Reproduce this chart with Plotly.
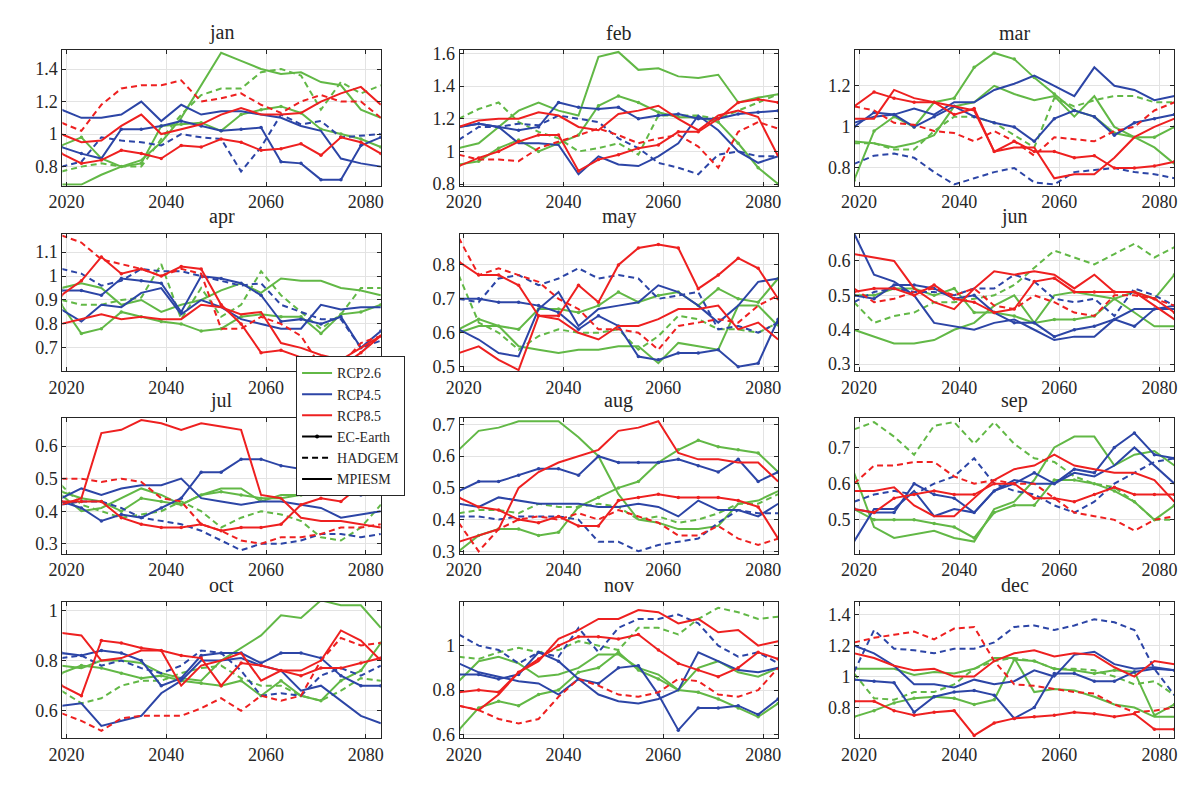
import plotly.graph_objects as go
from plotly.subplots import make_subplots

# years sampled every 4 years along the x axis
years = [2019, 2023, 2027, 2031, 2035, 2039, 2043, 2047, 2051, 2055, 2059, 2063, 2067, 2071, 2075, 2079, 2083]

months = ['jan', 'feb', 'mar', 'apr', 'may', 'jun', 'jul', 'aug', 'sep', 'oct', 'nov', 'dec']

# ---- jan ----
jan_g_ec = [0.93, 0.98, 0.85, 0.80, 0.82, 1.05, 1.06, 1.07, 1.02, 1.12, 1.15, 1.17, 1.13, 1.03, 1.00, 0.97, 0.92]
jan_g_had = [0.77, 0.80, 0.82, 0.80, 0.80, 0.97, 1.12, 1.24, 1.28, 1.28, 1.38, 1.40, 1.36, 1.15, 1.32, 1.25, 1.30]
jan_g_mpi = [0.69, 0.69, 0.75, 0.80, 0.84, 0.95, 1.10, 1.30, 1.50, 1.45, 1.40, 1.37, 1.38, 1.32, 1.30, 1.15, 1.10]
jan_b_ec = [0.92, 0.88, 0.85, 1.03, 1.03, 1.05, 1.08, 1.05, 1.02, 1.03, 1.04, 0.83, 0.82, 0.72, 0.72, 0.93, 0.98]
jan_b_had = [0.80, 0.83, 0.98, 0.96, 0.95, 0.93, 1.00, 0.98, 0.97, 0.77, 0.92, 1.12, 1.06, 1.08, 0.98, 0.99, 1.00]
jan_b_mpi = [1.15, 1.10, 1.10, 1.12, 1.20, 1.08, 1.18, 1.12, 1.14, 1.14, 1.12, 1.10, 1.05, 1.02, 0.85, 0.82, 0.80]
jan_r_ec = [0.88, 0.82, 0.84, 0.90, 0.88, 0.85, 0.93, 0.92, 0.97, 0.95, 0.90, 0.91, 0.94, 0.87, 0.98, 0.95, 0.88]
jan_r_had = [1.07, 1.02, 1.18, 1.28, 1.30, 1.30, 1.33, 1.20, 1.22, 1.25, 1.18, 1.13, 1.20, 1.24, 1.20, 1.20, 1.10]
jan_r_mpi = [1.00, 0.95, 0.96, 1.05, 1.12, 1.00, 1.03, 1.06, 1.12, 1.16, 1.12, 1.12, 1.13, 1.20, 1.25, 1.29, 1.18]

# ---- feb ----
feb_g_ec = [0.92, 0.94, 1.02, 1.07, 1.00, 1.05, 1.10, 1.28, 1.34, 1.30, 1.24, 1.21, 1.21, 1.18, 1.05, 0.90, 0.80]
feb_g_had = [1.20, 1.26, 1.30, 1.18, 1.12, 1.08, 1.00, 1.02, 1.05, 0.98, 1.22, 1.22, 1.22, 1.20, 1.25, 1.30, 1.35]
feb_g_mpi = [1.02, 1.05, 1.15, 1.25, 1.30, 1.25, 1.22, 1.58, 1.61, 1.50, 1.51, 1.46, 1.45, 1.47, 1.30, 1.33, 1.35]
feb_b_ec = [1.15, 1.17, 1.15, 1.13, 1.15, 1.30, 1.27, 1.26, 1.27, 1.20, 1.22, 1.23, 1.20, 1.20, 1.23, 1.24, 1.25]
feb_b_had = [1.07, 1.15, 1.15, 1.17, 1.16, 1.22, 1.20, 1.18, 1.08, 1.02, 0.93, 0.90, 0.86, 0.98, 1.00, 0.97, 0.97]
feb_b_mpi = [1.15, 1.17, 1.15, 1.05, 1.05, 1.04, 0.86, 0.97, 0.92, 0.91, 0.97, 1.05, 1.22, 1.13, 1.00, 0.93, 0.97]
feb_r_ec = [0.91, 0.96, 1.00, 1.06, 1.10, 1.10, 0.88, 0.95, 0.98, 1.02, 1.04, 1.12, 1.12, 1.20, 1.30, 1.32, 1.30]
feb_r_had = [0.98, 0.95, 0.95, 0.94, 1.02, 1.06, 1.10, 1.14, 1.10, 1.05, 1.08, 1.10, 1.03, 0.90, 1.12, 1.18, 1.14]
feb_r_mpi = [1.15, 1.19, 1.20, 1.20, 1.24, 1.22, 1.15, 1.13, 1.23, 1.25, 1.28, 1.20, 1.13, 1.22, 1.25, 1.21, 0.97]

# ---- mar ----
mar_g_ec = [0.74, 0.98, 1.05, 1.00, 1.12, 1.14, 1.29, 1.36, 1.33, 1.24, 1.16, 1.08, 1.05, 0.97, 0.95, 0.95, 1.00]
mar_g_had = [0.92, 0.92, 0.89, 0.89, 0.98, 1.05, 1.05, 1.02, 0.96, 0.90, 1.14, 1.10, 1.13, 1.15, 1.15, 1.12, 1.12]
mar_g_mpi = [0.93, 0.92, 0.90, 0.92, 0.96, 1.10, 1.12, 1.20, 1.16, 1.13, 1.15, 1.05, 1.15, 1.00, 0.95, 0.90, 0.82]
mar_b_ec = [1.00, 1.07, 1.06, 1.00, 1.05, 1.10, 1.05, 1.02, 1.00, 0.93, 1.04, 1.08, 1.05, 0.96, 1.02, 1.04, 1.06]
mar_b_had = [0.82, 0.86, 0.87, 0.85, 0.78, 0.72, 0.75, 0.78, 0.80, 0.73, 0.72, 0.78, 0.79, 0.80, 0.78, 0.77, 0.75]
mar_b_mpi = [1.02, 1.05, 1.06, 1.09, 1.06, 1.12, 1.12, 1.18, 1.21, 1.25, 1.20, 1.15, 1.29, 1.20, 1.18, 1.13, 1.15]
mar_r_ec = [1.10, 1.17, 1.14, 1.12, 1.12, 1.06, 1.09, 0.88, 0.93, 0.88, 0.88, 0.85, 0.86, 0.80, 0.80, 0.81, 0.83]
mar_r_had = [1.10, 1.08, 1.02, 1.01, 0.98, 0.97, 0.93, 0.98, 0.93, 0.86, 0.95, 0.94, 0.93, 0.98, 1.00, 1.08, 1.12]
mar_r_mpi = [1.04, 1.04, 1.18, 1.14, 1.12, 1.10, 1.08, 0.88, 0.90, 0.90, 0.75, 0.77, 0.77, 0.85, 0.95, 1.00, 1.04]

# ---- apr ----
apr_g_ec = [0.88, 0.76, 0.78, 0.85, 0.83, 0.81, 0.80, 0.77, 0.78, 0.83, 0.84, 0.83, 0.83, 0.76, 0.84, 0.85, 0.88]
apr_g_had = [0.90, 0.88, 0.88, 0.90, 0.91, 1.05, 0.82, 0.95, 0.83, 0.88, 1.02, 0.92, 0.85, 0.78, 0.84, 0.95, 0.95]
apr_g_mpi = [0.95, 0.97, 0.95, 0.88, 0.90, 0.85, 0.88, 0.90, 0.94, 0.97, 0.93, 0.99, 0.98, 0.98, 0.95, 0.94, 0.92]
apr_b_ec = [0.94, 0.94, 0.92, 0.99, 0.98, 0.97, 0.85, 1.00, 0.99, 0.97, 0.92, 0.81, 0.82, 0.80, 0.83, 0.70, 0.77]
apr_b_had = [1.03, 1.01, 0.96, 0.98, 1.03, 1.02, 1.02, 1.00, 0.98, 0.96, 0.97, 0.88, 0.85, 0.82, 0.82, 0.70, 0.73]
apr_b_mpi = [0.86, 0.81, 0.88, 0.87, 0.93, 0.95, 0.84, 0.90, 0.87, 0.82, 0.80, 0.78, 0.78, 0.88, 0.86, 0.87, 0.87]
apr_r_ec = [0.92, 0.98, 1.08, 1.01, 1.03, 1.00, 1.04, 1.03, 0.88, 0.80, 0.68, 0.69, 0.66, 0.62, 0.62, 0.68, 0.75]
apr_r_had = [1.17, 1.14, 1.07, 1.05, 1.03, 1.00, 1.03, 1.01, 0.78, 0.78, 0.83, 0.80, 0.75, 0.62, 0.63, 0.72, 0.75]
apr_r_mpi = [0.80, 0.82, 0.84, 0.82, 0.83, 0.82, 0.82, 0.88, 0.87, 0.84, 0.85, 0.72, 0.70, 0.67, 0.65, 0.70, 0.75]

# ---- may ----
may_g_ec = [0.61, 0.64, 0.62, 0.61, 0.67, 0.67, 0.66, 0.68, 0.72, 0.69, 0.71, 0.72, 0.68, 0.73, 0.70, 0.69, 0.76]
may_g_had = [0.77, 0.63, 0.60, 0.55, 0.59, 0.61, 0.60, 0.60, 0.61, 0.55, 0.59, 0.65, 0.64, 0.61, 0.61, 0.60, 0.63]
may_g_mpi = [0.60, 0.62, 0.62, 0.56, 0.55, 0.54, 0.55, 0.55, 0.56, 0.56, 0.51, 0.57, 0.56, 0.55, 0.68, 0.68, 0.62]
may_b_ec = [0.70, 0.70, 0.69, 0.69, 0.68, 0.66, 0.61, 0.65, 0.62, 0.53, 0.52, 0.54, 0.54, 0.55, 0.50, 0.51, 0.64]
may_b_had = [0.70, 0.69, 0.76, 0.77, 0.74, 0.76, 0.79, 0.76, 0.77, 0.76, 0.70, 0.71, 0.72, 0.61, 0.62, 0.60, 0.63]
may_b_mpi = [0.61, 0.58, 0.54, 0.53, 0.67, 0.72, 0.62, 0.67, 0.68, 0.69, 0.74, 0.72, 0.68, 0.63, 0.68, 0.75, 0.76]
may_r_ec = [0.81, 0.77, 0.77, 0.74, 0.65, 0.65, 0.74, 0.69, 0.80, 0.85, 0.86, 0.85, 0.73, 0.77, 0.82, 0.79, 0.70]
may_r_had = [0.88, 0.77, 0.79, 0.77, 0.75, 0.70, 0.67, 0.61, 0.61, 0.60, 0.55, 0.62, 0.63, 0.64, 0.63, 0.68, 0.71]
may_r_mpi = [0.54, 0.56, 0.52, 0.49, 0.65, 0.64, 0.60, 0.58, 0.62, 0.62, 0.64, 0.67, 0.67, 0.68, 0.61, 0.63, 0.58]

# ---- jun ----
jun_g_ec = [0.50, 0.50, 0.52, 0.52, 0.50, 0.52, 0.45, 0.45, 0.44, 0.42, 0.43, 0.43, 0.44, 0.49, 0.51, 0.49, 0.56]
jun_g_had = [0.48, 0.42, 0.44, 0.45, 0.48, 0.48, 0.49, 0.50, 0.53, 0.58, 0.63, 0.61, 0.59, 0.62, 0.65, 0.61, 0.64]
jun_g_mpi = [0.40, 0.38, 0.36, 0.36, 0.37, 0.40, 0.42, 0.47, 0.50, 0.42, 0.50, 0.51, 0.50, 0.49, 0.45, 0.41, 0.41]
jun_b_ec = [0.50, 0.49, 0.53, 0.53, 0.52, 0.49, 0.50, 0.45, 0.42, 0.42, 0.38, 0.40, 0.41, 0.43, 0.41, 0.46, 0.47]
jun_b_had = [0.48, 0.51, 0.52, 0.51, 0.51, 0.50, 0.52, 0.52, 0.56, 0.54, 0.49, 0.48, 0.49, 0.44, 0.52, 0.50, 0.47]
jun_b_mpi = [0.68, 0.56, 0.54, 0.50, 0.42, 0.41, 0.40, 0.42, 0.43, 0.40, 0.37, 0.38, 0.38, 0.43, 0.46, 0.46, 0.46]
jun_r_ec = [0.51, 0.52, 0.52, 0.50, 0.53, 0.49, 0.48, 0.45, 0.46, 0.54, 0.55, 0.51, 0.51, 0.51, 0.51, 0.49, 0.45]
jun_r_had = [0.52, 0.48, 0.49, 0.51, 0.52, 0.50, 0.52, 0.47, 0.46, 0.50, 0.48, 0.45, 0.44, 0.50, 0.50, 0.49, 0.47]
jun_r_mpi = [0.62, 0.61, 0.60, 0.52, 0.48, 0.46, 0.52, 0.57, 0.56, 0.57, 0.56, 0.52, 0.56, 0.51, 0.51, 0.47, 0.43]

# ---- jul ----
jul_g_ec = [0.46, 0.44, 0.43, 0.40, 0.44, 0.43, 0.42, 0.45, 0.46, 0.45, 0.44, 0.44, 0.45, 0.50, 0.49, 0.49, 0.48]
jul_g_had = [0.48, 0.42, 0.40, 0.38, 0.39, 0.40, 0.43, 0.40, 0.35, 0.38, 0.40, 0.39, 0.37, 0.32, 0.31, 0.35, 0.42]
jul_g_mpi = [0.45, 0.40, 0.41, 0.44, 0.47, 0.45, 0.42, 0.45, 0.47, 0.47, 0.43, 0.45, 0.45, 0.50, 0.49, 0.48, 0.47]
jul_b_ec = [0.43, 0.41, 0.37, 0.39, 0.38, 0.41, 0.44, 0.52, 0.52, 0.56, 0.56, 0.54, 0.53, 0.53, 0.47, 0.45, 0.47]
jul_b_had = [0.42, 0.43, 0.43, 0.41, 0.38, 0.37, 0.36, 0.34, 0.31, 0.28, 0.30, 0.30, 0.31, 0.33, 0.33, 0.32, 0.33]
jul_b_mpi = [0.44, 0.47, 0.45, 0.47, 0.48, 0.48, 0.50, 0.44, 0.43, 0.42, 0.43, 0.43, 0.42, 0.41, 0.38, 0.39, 0.40]
jul_r_ec = [0.43, 0.43, 0.43, 0.38, 0.36, 0.35, 0.35, 0.36, 0.34, 0.35, 0.35, 0.36, 0.42, 0.44, 0.43, 0.48, 0.48]
jul_r_had = [0.50, 0.50, 0.49, 0.50, 0.49, 0.44, 0.43, 0.36, 0.34, 0.31, 0.30, 0.32, 0.32, 0.33, 0.35, 0.35, 0.36]
jul_r_mpi = [0.42, 0.44, 0.64, 0.65, 0.68, 0.67, 0.65, 0.67, 0.66, 0.65, 0.45, 0.44, 0.38, 0.37, 0.37, 0.36, 0.35]

# ---- aug ----
aug_g_ec = [0.30, 0.35, 0.37, 0.37, 0.35, 0.36, 0.44, 0.47, 0.50, 0.52, 0.58, 0.62, 0.65, 0.63, 0.62, 0.61, 0.55]
aug_g_had = [0.42, 0.43, 0.43, 0.42, 0.45, 0.44, 0.44, 0.45, 0.44, 0.40, 0.41, 0.39, 0.40, 0.42, 0.45, 0.45, 0.48]
aug_g_mpi = [0.62, 0.68, 0.69, 0.71, 0.71, 0.71, 0.66, 0.60, 0.48, 0.40, 0.39, 0.37, 0.37, 0.38, 0.45, 0.46, 0.49]
aug_b_ec = [0.49, 0.52, 0.52, 0.54, 0.56, 0.56, 0.54, 0.60, 0.58, 0.58, 0.58, 0.59, 0.57, 0.55, 0.59, 0.52, 0.55]
aug_b_had = [0.41, 0.41, 0.40, 0.41, 0.41, 0.41, 0.40, 0.33, 0.33, 0.30, 0.32, 0.33, 0.34, 0.39, 0.43, 0.42, 0.42]
aug_b_mpi = [0.45, 0.44, 0.47, 0.46, 0.45, 0.45, 0.45, 0.44, 0.44, 0.45, 0.44, 0.41, 0.46, 0.43, 0.43, 0.41, 0.45]
aug_r_ec = [0.47, 0.44, 0.43, 0.40, 0.39, 0.41, 0.38, 0.38, 0.46, 0.47, 0.48, 0.47, 0.47, 0.47, 0.46, 0.44, 0.34]
aug_r_had = [0.39, 0.30, 0.37, 0.40, 0.41, 0.40, 0.42, 0.40, 0.43, 0.41, 0.39, 0.35, 0.35, 0.38, 0.34, 0.32, 0.34]
aug_r_mpi = [0.33, 0.35, 0.37, 0.50, 0.55, 0.58, 0.60, 0.62, 0.68, 0.69, 0.71, 0.61, 0.59, 0.59, 0.58, 0.58, 0.52]

# ---- sep ----
sep_g_ec = [0.53, 0.50, 0.50, 0.50, 0.49, 0.48, 0.45, 0.52, 0.54, 0.54, 0.61, 0.61, 0.60, 0.58, 0.55, 0.50, 0.54]
sep_g_had = [0.75, 0.77, 0.73, 0.68, 0.76, 0.77, 0.71, 0.77, 0.71, 0.67, 0.66, 0.62, 0.60, 0.59, 0.55, 0.50, 0.50]
sep_g_mpi = [0.63, 0.48, 0.45, 0.46, 0.47, 0.45, 0.44, 0.53, 0.55, 0.61, 0.70, 0.73, 0.73, 0.65, 0.68, 0.69, 0.65]
sep_b_ec = [0.53, 0.52, 0.52, 0.60, 0.57, 0.56, 0.52, 0.58, 0.60, 0.63, 0.60, 0.64, 0.63, 0.70, 0.74, 0.68, 0.67]
sep_b_had = [0.55, 0.57, 0.58, 0.57, 0.60, 0.62, 0.67, 0.60, 0.58, 0.57, 0.54, 0.52, 0.55, 0.60, 0.63, 0.66, 0.67]
sep_b_mpi = [0.44, 0.53, 0.53, 0.58, 0.51, 0.53, 0.52, 0.58, 0.61, 0.60, 0.60, 0.63, 0.62, 0.65, 0.70, 0.65, 0.60]
sep_r_ec = [0.53, 0.52, 0.56, 0.57, 0.58, 0.57, 0.57, 0.60, 0.60, 0.56, 0.56, 0.55, 0.57, 0.59, 0.57, 0.57, 0.57]
sep_r_had = [0.60, 0.65, 0.65, 0.66, 0.66, 0.62, 0.60, 0.61, 0.60, 0.60, 0.56, 0.52, 0.51, 0.50, 0.47, 0.50, 0.51]
sep_r_mpi = [0.58, 0.58, 0.59, 0.54, 0.51, 0.51, 0.56, 0.61, 0.64, 0.65, 0.68, 0.65, 0.64, 0.63, 0.63, 0.61, 0.55]

# ---- oct ----
oct_g_ec = [0.75, 0.78, 0.77, 0.75, 0.73, 0.74, 0.72, 0.71, 0.70, 0.72, 0.66, 0.72, 0.66, 0.64, 0.72, 0.76, 0.87]
oct_g_had = [0.68, 0.63, 0.65, 0.70, 0.72, 0.72, 0.75, 0.77, 0.78, 0.73, 0.70, 0.70, 0.66, 0.64, 0.68, 0.73, 0.72]
oct_g_mpi = [0.78, 0.77, 0.80, 0.80, 0.79, 0.75, 0.73, 0.72, 0.80, 0.85, 0.90, 0.98, 0.97, 1.04, 1.02, 1.02, 0.93]
oct_b_ec = [0.83, 0.82, 0.84, 0.83, 0.80, 0.70, 0.73, 0.82, 0.83, 0.83, 0.79, 0.83, 0.83, 0.81, 0.74, 0.70, 0.70]
oct_b_had = [0.81, 0.82, 0.78, 0.80, 0.77, 0.75, 0.78, 0.84, 0.83, 0.76, 0.66, 0.67, 0.66, 0.74, 0.77, 0.74, 0.78]
oct_b_mpi = [0.62, 0.63, 0.54, 0.56, 0.58, 0.67, 0.72, 0.80, 0.80, 0.81, 0.78, 0.76, 0.68, 0.70, 0.64, 0.58, 0.55]
oct_r_ec = [0.70, 0.66, 0.88, 0.87, 0.85, 0.84, 0.82, 0.81, 0.70, 0.79, 0.78, 0.76, 0.74, 0.77, 0.77, 0.79, 0.81]
oct_r_had = [0.59, 0.56, 0.52, 0.57, 0.58, 0.58, 0.58, 0.61, 0.65, 0.60, 0.66, 0.64, 0.66, 0.80, 0.89, 0.86, 0.87]
oct_r_mpi = [0.91, 0.90, 0.80, 0.81, 0.84, 0.84, 0.70, 0.78, 0.80, 0.83, 0.72, 0.76, 0.76, 0.80, 0.92, 0.88, 0.80]

# ---- nov ----
nov_g_ec = [0.62, 0.72, 0.75, 0.73, 0.78, 0.80, 0.88, 0.90, 0.97, 0.89, 0.85, 0.80, 0.79, 0.76, 0.72, 0.68, 0.74]
nov_g_had = [0.95, 0.94, 0.97, 0.99, 0.97, 0.98, 1.02, 1.00, 0.98, 1.08, 1.08, 1.05, 1.12, 1.17, 1.15, 1.12, 1.13]
nov_g_mpi = [0.84, 0.93, 0.95, 0.92, 0.86, 0.87, 0.90, 0.96, 0.96, 0.90, 0.87, 0.80, 0.90, 0.93, 0.88, 0.86, 0.90]
nov_b_ec = [0.87, 0.87, 0.85, 0.87, 0.97, 0.93, 0.85, 0.83, 0.90, 0.91, 0.78, 0.62, 0.72, 0.72, 0.73, 0.69, 0.76]
nov_b_had = [1.05, 1.00, 0.98, 0.92, 0.97, 0.95, 1.08, 0.97, 1.08, 1.12, 1.12, 1.14, 1.10, 1.00, 0.95, 0.97, 0.92]
nov_b_mpi = [0.92, 0.88, 0.86, 0.84, 0.83, 0.78, 0.85, 0.78, 0.75, 0.74, 0.76, 0.80, 0.97, 0.93, 0.89, 0.88, 0.90]
nov_r_ec = [0.79, 0.80, 0.79, 0.88, 0.94, 1.00, 1.04, 1.04, 1.03, 1.05, 0.98, 0.92, 0.89, 0.86, 0.90, 0.97, 0.94]
nov_r_had = [0.73, 0.71, 0.67, 0.65, 0.67, 0.77, 0.85, 0.82, 0.78, 0.77, 0.79, 0.85, 0.84, 0.78, 0.77, 0.80, 0.90]
nov_r_mpi = [0.73, 0.71, 0.78, 0.88, 0.93, 1.03, 1.07, 1.12, 1.12, 1.16, 1.15, 1.10, 1.12, 1.06, 1.07, 1.00, 1.02]

# ---- dec ----
dec_g_ec = [0.74, 0.78, 0.83, 0.86, 0.87, 0.86, 0.82, 0.85, 1.11, 1.10, 1.05, 1.04, 1.02, 1.04, 1.03, 0.75, 0.82]
dec_g_had = [1.02, 0.86, 0.85, 0.90, 0.90, 0.95, 1.05, 1.10, 1.12, 1.10, 1.05, 1.05, 1.04, 1.00, 0.95, 0.97, 0.88]
dec_g_mpi = [1.05, 1.05, 1.05, 1.01, 1.03, 1.02, 1.05, 1.12, 1.12, 0.90, 0.92, 0.91, 0.87, 0.82, 0.80, 0.74, 0.74]
dec_b_ec = [0.98, 0.97, 0.96, 0.77, 0.87, 0.90, 0.91, 0.88, 0.73, 0.80, 1.02, 1.02, 0.97, 0.97, 1.03, 1.05, 1.04]
dec_b_had = [1.03, 1.30, 1.18, 1.17, 1.15, 1.18, 1.18, 1.22, 1.32, 1.33, 1.30, 1.33, 1.37, 1.35, 1.30, 1.05, 0.88]
dec_b_mpi = [1.20, 1.15, 1.07, 0.95, 0.95, 0.93, 0.98, 0.95, 0.97, 1.04, 1.00, 1.14, 1.16, 1.08, 1.05, 1.06, 1.04]
dec_r_ec = [0.84, 0.84, 0.78, 0.75, 0.77, 0.78, 0.62, 0.70, 0.73, 0.74, 0.75, 0.77, 0.76, 0.74, 0.76, 0.66, 0.66]
dec_r_had = [1.22, 1.25, 1.27, 1.29, 1.24, 1.31, 1.32, 1.10, 0.95, 0.94, 0.92, 0.90, 0.89, 0.82, 0.77, 0.78, 0.80]
dec_r_mpi = [1.15, 1.12, 1.07, 1.04, 1.05, 1.00, 1.00, 1.10, 1.15, 1.17, 1.13, 1.15, 1.14, 1.06, 1.00, 1.10, 1.08]

# axis limits and tick labels per month
y_ranges = {
    'jan': [0.683, 1.515], 'feb': [0.79, 1.62], 'mar': [0.714, 1.373],
    'apr': [0.603, 1.177], 'may': [0.487, 0.892], 'jun': [0.28, 0.679],
    'jul': [0.27, 0.686], 'aug': [0.293, 0.72], 'sep': [0.407, 0.781],
    'oct': [0.492, 1.035], 'nov': [0.585, 1.198], 'dec': [0.604, 1.484],
}
y_ticks = {
    'jan': [0.8, 1.0, 1.2, 1.4], 'feb': [0.8, 1.0, 1.2, 1.4, 1.6], 'mar': [0.8, 1.0, 1.2],
    'apr': [0.7, 0.8, 0.9, 1.0, 1.1], 'may': [0.5, 0.6, 0.7, 0.8], 'jun': [0.3, 0.4, 0.5, 0.6],
    'jul': [0.3, 0.4, 0.5, 0.6], 'aug': [0.3, 0.4, 0.5, 0.6, 0.7], 'sep': [0.5, 0.6, 0.7],
    'oct': [0.6, 0.8, 1.0], 'nov': [0.6, 0.8, 1.0], 'dec': [0.8, 1.0, 1.2, 1.4],
}
x_ticks = [2020, 2040, 2060, 2080]

scenarios = [('g', 'RCP2.6'), ('b', 'RCP4.5'), ('r', 'RCP8.5')]
models = [('ec', 'EC-Earth'), ('had', 'HADGEM'), ('mpi', 'MPIESM')]
colors = {'g': '#62b846', 'b': '#2c45a6', 'r': '#ee2020'}
dashes = {'ec': 'solid', 'had': '6px,4px', 'mpi': 'solid'}

FONT = 'Liberation Serif'
INK = '#262626'
W, H = 1200, 786
OFF = 8  # page margin of the html body

# panel boxes in screen pixels (left, right) / (top, bottom)
col_px = [(49, 372), (452, 775), (853, 1177)]
row_px = [(45, 183), (232, 372), (420, 558), (607, 746)]
col_dom = [[(a - OFF) / W, (b - OFF) / W] for a, b in col_px]
row_dom = [[1 - (b - OFF) / H, 1 - (a - OFF) / H] for a, b in row_px]

fig = make_subplots(rows=4, cols=3)

def fmt(v):
    s = ('%.1f' % v)
    return s[:-2] if s.endswith('.0') else s

for i, m in enumerate(months):
    r, c = i // 3 + 1, i % 3 + 1
    for sk, sname in scenarios:
        for mk, mname in models:
            vals = globals()[f'{m}_{sk}_{mk}']
            fig.add_trace(go.Scatter(
                x=years, y=vals,
                mode='lines+markers' if mk == 'ec' else 'lines',
                line=dict(color=colors[sk], width=2, dash=dashes[mk]),
                marker=dict(size=3.5, color=colors[sk]),
                showlegend=False, hoverinfo='skip'), row=r, col=c)
    xa = 'xaxis' if i == 0 else f'xaxis{i+1}'
    ya = 'yaxis' if i == 0 else f'yaxis{i+1}'
    fig.layout[xa].domain = col_dom[c - 1]
    fig.layout[ya].domain = row_dom[r - 1]
    fig.update_xaxes(range=[2019.2, 2083], tickvals=x_ticks, row=r, col=c)
    fig.update_yaxes(range=y_ranges[m], tickvals=y_ticks[m],
                     ticktext=[fmt(v) for v in y_ticks[m]], row=r, col=c)
    fig.add_annotation(text=m, x=sum(col_dom[c - 1]) / 2, y=row_dom[r - 1][1],
                       xref='paper', yref='paper', xanchor='center', yanchor='bottom',
                       yshift=4, showarrow=False, font=dict(family=FONT, size=20, color=INK))

axis_style = dict(showline=True, linecolor=INK, linewidth=1, mirror='ticks',
                  ticks='inside', ticklen=4, tickcolor=INK,
                  showgrid=True, gridcolor='#e3e3e3', gridwidth=1, zeroline=False,
                  tickfont=dict(family=FONT, size=18, color=INK))
fig.update_xaxes(**axis_style)
fig.update_yaxes(**axis_style)

# legend entries
for sk, sname in scenarios:
    fig.add_trace(go.Scatter(x=[None], y=[None], mode='lines', name=sname,
                             line=dict(color=colors[sk], width=2)))
for mk, mname in models:
    fig.add_trace(go.Scatter(x=[None], y=[None], name=mname,
                             mode='lines+markers' if mk == 'ec' else 'lines',
                             line=dict(color='black', width=2, dash=dashes[mk]),
                             marker=dict(size=4, color='black')))

fig.update_layout(
    width=W, height=H,
    margin=dict(l=0, r=0, t=0, b=0),
    paper_bgcolor='white', plot_bgcolor='white',
    font=dict(family=FONT, color=INK),
    legend=dict(x=(297 - OFF - 11) / W, y=1 - (357 - OFF) / H, xanchor='left', yanchor='top',
                bgcolor='white', bordercolor=INK, borderwidth=1,
                font=dict(family=FONT, size=14, color=INK),
                tracegroupgap=0, itemwidth=30),
)

fig.write_html("out.html")
